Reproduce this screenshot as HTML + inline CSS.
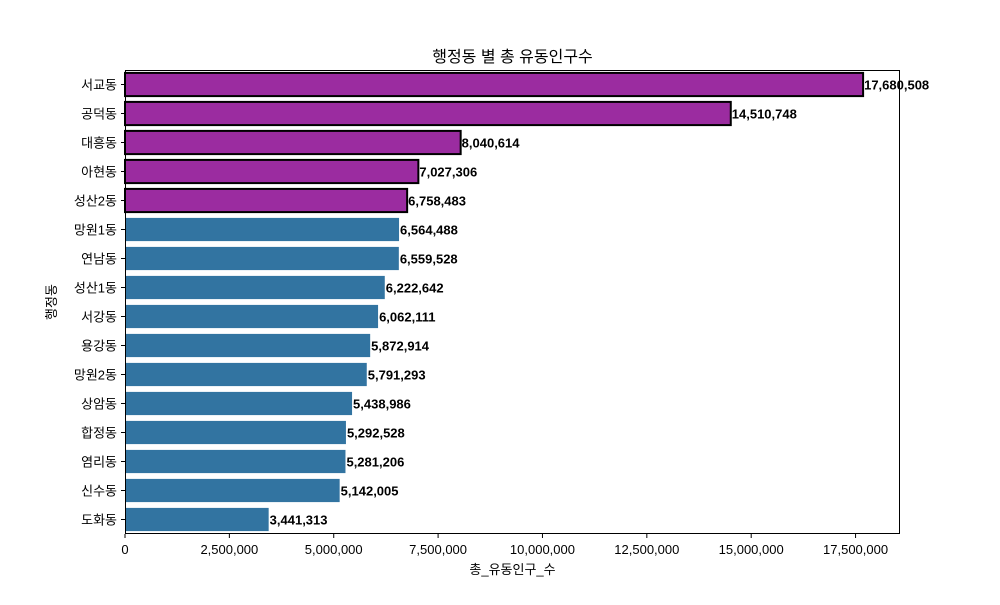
<!DOCTYPE html>
<html><head><meta charset="utf-8"><style>
body{margin:0;background:#fff;}
svg text{font-family:"Liberation Sans","Noto Sans CJK KR",sans-serif;}
</style></head><body>
<svg id="c" width="1000" height="600"></svg>
<script>
const categories=["서교동","공덕동","대흥동","아현동","성산2동","망원1동","연남동","성산1동","서강동","용강동","망원2동","상암동","합정동","염리동","신수동","도화동"];
const values=[17680508,14510748,8040614,7027306,6758483,6564488,6559528,6222642,6062111,5872914,5791293,5438986,5292528,5281206,5142005,3441313];
const highlightCount=5;
const xTicks=[0,2500000,5000000,7500000,10000000,12500000,15000000,17500000];
const NS="http://www.w3.org/2000/svg";
const svg=document.getElementById('c');
const L=125,R=900,T=70,B=534;
const xMax=Math.max(...values)*1.05;
const x=v=>L+(v/xMax)*(R-L);
const step=(B-T)/categories.length;
const y=i=>T+step*i+step/2;
function mk(t,a,txt){const e=document.createElementNS(NS,t);for(const k in a)e.setAttribute(k,a[k]);if(txt!=null)e.textContent=txt;svg.appendChild(e);return e;}
const fmt=v=>v.toLocaleString('en-US');
values.forEach((v,i)=>{
  const hl=i<highlightCount;
  const bh=step*0.8;
  const r=mk('rect',{x:L,y:y(i)-bh/2,width:x(v)-L,height:bh,fill:hl?'#9b2ca0':'#3274a1',stroke:hl?'#000':'none','stroke-width':hl?2:0});
  
  
  const t=mk('text',{x:x(v)+1,y:y(i)+5,'font-size':13,'font-weight':'bold',fill:'#000'},fmt(v));
  
  
  mk('line',{x1:L-4,x2:L,y1:y(i),y2:y(i),stroke:'#000'});
  const c=mk('text',{x:L-8,y:y(i)+5,'font-size':13,'text-anchor':'end',fill:'#000'},categories[i]);
  
  
});
xTicks.forEach(v=>{
  mk('line',{x1:x(v),x2:x(v),y1:B,y2:B+4,stroke:'#000'});
  const t=mk('text',{x:x(v),y:B+20,'font-size':13,'text-anchor':'middle',fill:'#000'},fmt(v));
  
  
});
const f=mk('rect',{x:L+0.5,y:T+0.5,width:R-L-1,height:B-T-1,fill:'none',stroke:'#000','stroke-width':1});


const ti=mk('text',{x:(L+R)/2,y:62,'font-size':16,'text-anchor':'middle',fill:'#000'},'행정동 별 총 유동인구수');


const xt=mk('text',{x:(L+R)/2,y:574,'font-size':13,'text-anchor':'middle',fill:'#000'},'총_유동인구_수');


const yt=mk('text',{x:0,y:0,'font-size':13,'text-anchor':'middle',fill:'#000',transform:'translate(56,302) rotate(-90)'},'행정동');


</script>
</body></html>
